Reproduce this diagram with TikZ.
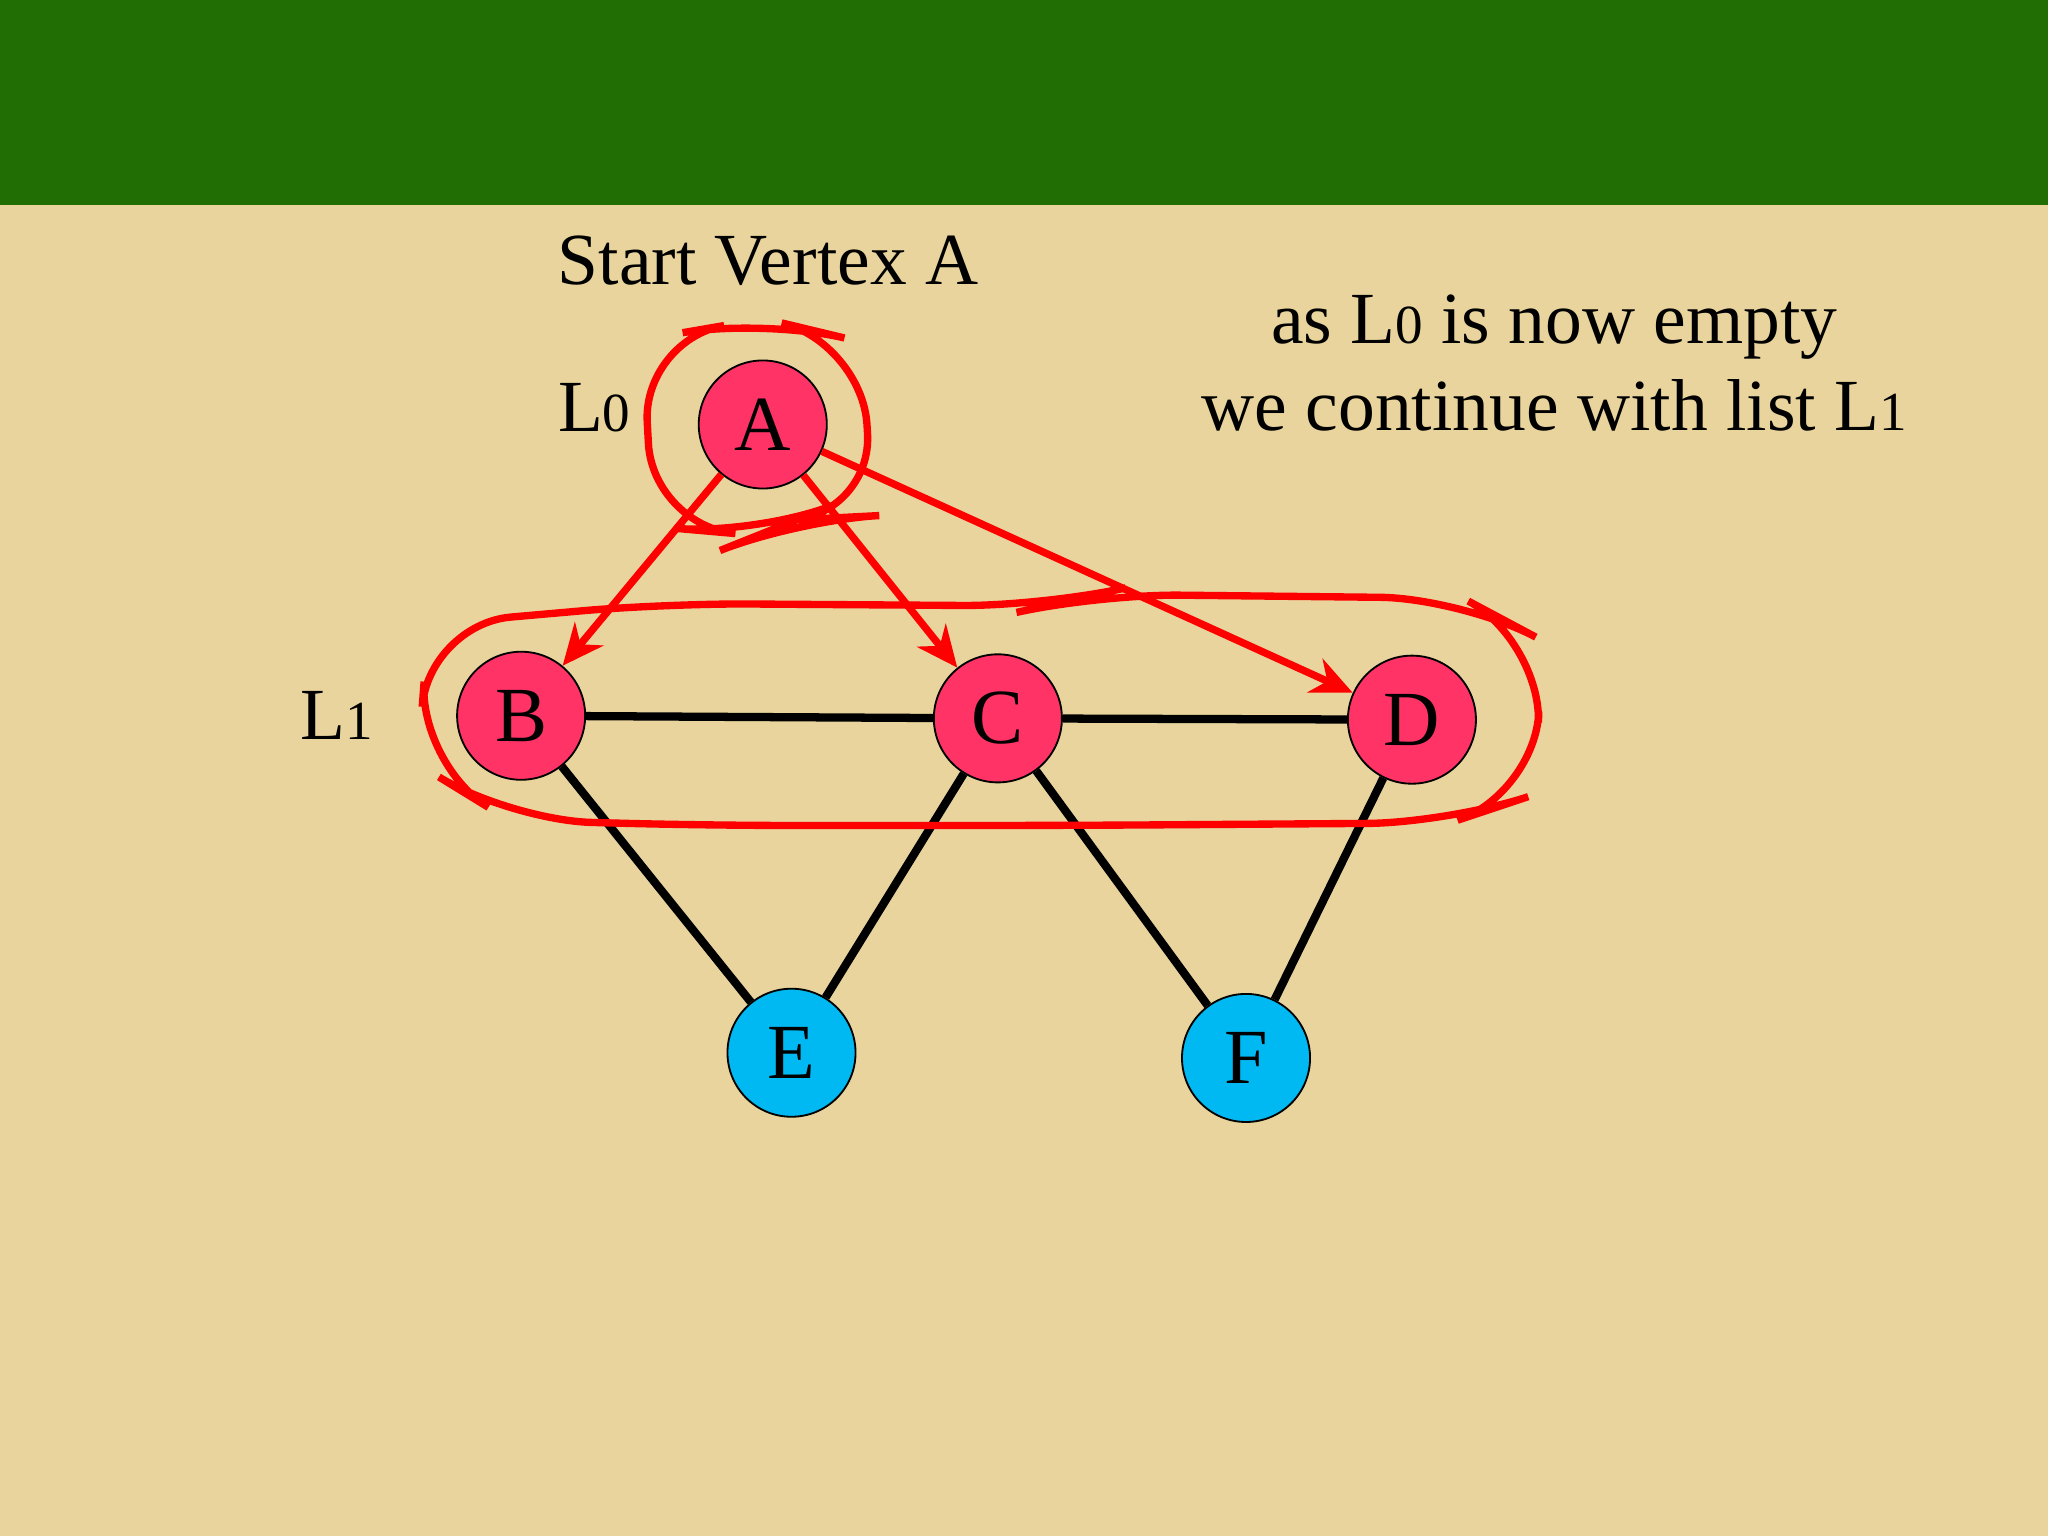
\documentclass[tikz,border=0pt]{standalone}
\usepackage{fontspec}
\setmainfont{Liberation Serif}
\usetikzlibrary{arrows.meta}
\definecolor{bg}{HTML}{E8D49C}
\definecolor{band}{HTML}{206E04}
\definecolor{pinkn}{HTML}{FF3366}
\definecolor{bluen}{HTML}{00B9F2}
\tikzset{
  vtx/.style={circle,draw=black,thin,minimum size=0.98cm,inner sep=0pt,font=\fontsize{17}{17}\selectfont},
  edge/.style={line width=1.8pt,black},
  redarr/.style={line width=1.6pt,red,-{Stealth[length=9pt,width=8pt]}},
  loop/.style={line width=1.6pt,red,rounded corners=18pt},
  lbl/.style={font=\fontsize{16}{19}\selectfont,align=center}
}
\newcommand{\smd}[1]{{\fontsize{12}{12}\selectfont #1}}
\begin{document}
\begin{tikzpicture}[x=0.01cm,y=-0.01cm]
\useasboundingbox (0,0) rectangle (1568,1176);
\fill[bg] (0,0) rectangle (1568,1176);
\fill[band] (0,0) rectangle (1568,157);
\node[vtx,fill=pinkn] (A) at (584,325) {A};
\node[vtx,fill=pinkn] (B) at (399,548) {B};
\node[vtx,fill=pinkn] (C) at (764,550) {C};
\node[vtx,fill=pinkn] (D) at (1081,551) {D};
\node[vtx,fill=bluen] (E) at (606,806) {E};
\node[vtx,fill=bluen] (F) at (954,810) {F};
\draw[edge] (B) -- (C);
\draw[edge] (C) -- (D);
\draw[edge] (B) -- (E);
\draw[edge] (C) -- (E);
\draw[edge] (C) -- (F);
\draw[edge] (D) -- (F);
\draw[redarr] (A) -- (B);
\draw[redarr] (A) -- (C);
\draw[redarr] (A) -- (D);
\draw[loop] (492,260) -- (585,244) -- (660,262) -- (668,395) -- (610,398) -- (580,410) -- (500,403) -- cycle;
\draw[loop] (328,478) -- (510,462) -- (800,464) -- (840,455) -- (1120,458) -- (1180,490) -- (1176,608) -- (1110,630) -- (820,632) -- (540,632) -- (390,628) -- (320,585) -- cycle;
\node[lbl] (t1) at (588,200) {Start Vertex A};
\node[lbl] (t2) at (455,312) {L\smd{0}};
\node[lbl] (t3) at (258,548) {L\smd{1}};
\node[lbl] (t4) at (1190,278) {as L\smd{0} is now empty\\we continue with list L\smd{1}};
\end{tikzpicture}
\end{document}
